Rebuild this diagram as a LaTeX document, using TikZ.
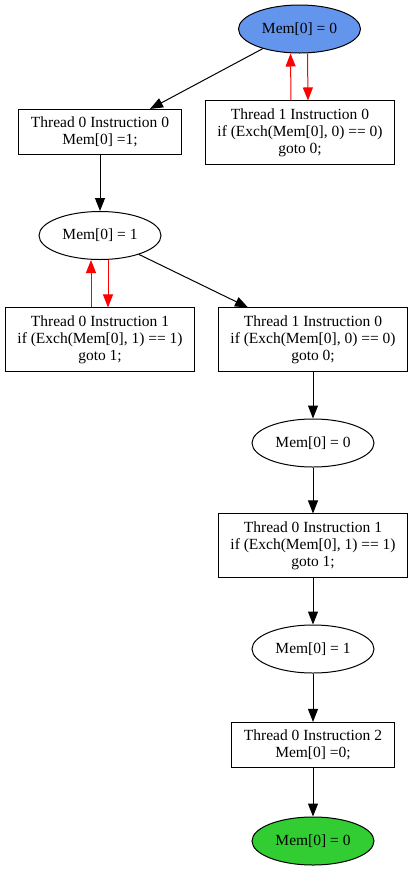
\documentclass[tikz,border=0pt]{standalone}
\usepackage{fontspec}
\setmainfont{Liberation Serif}
\usetikzlibrary{shapes.geometric,arrows.meta}
\definecolor{startblue}{HTML}{6495ED}
\definecolor{donegreen}{HTML}{32CD32}

\begin{document}
\begin{tikzpicture}[x=1pt,y=-1pt,line width=1pt,
    every node/.style={font=\fontsize{15.5}{17}\selectfont},
    state/.style={draw,ellipse,minimum width=122pt,minimum height=48pt,inner sep=0pt},
    instr/.style={draw,rectangle,align=center,inner xsep=12pt,inner ysep=7.5pt},
    edge/.style={-{Triangle[length=13pt,width=10pt]}},
    redge/.style={edge,red}]
    \useasboundingbox (0,0) rectangle (413,871);
     \node[state,fill=startblue] (m0) at (299.5,29) {Mem[0] = 0};
     \node[instr] (t0i0) at (100,132) {Thread 0 Instruction 0\\Mem[0] =1;};
     \node[instr] (t1i0a) at (300,132.5) {Thread 1 Instruction 0\\if (Exch(Mem[0], 0) == 0)\\goto 0;};
     \node[state] (m1) at (100,235.5) {Mem[0] = 1};
     \node[instr] (t0i1a) at (100,339.5) {Thread 0 Instruction 1\\if (Exch(Mem[0], 1) == 1)\\goto 1;};
     \node[instr] (t1i0b) at (313,339.5) {Thread 1 Instruction 0\\if (Exch(Mem[0], 0) == 0)\\goto 0;};
     \node[state] (m2) at (313,443) {Mem[0] = 0};
     \node[instr] (t0i1b) at (313,545.5) {Thread 0 Instruction 1\\if (Exch(Mem[0], 1) == 1)\\goto 1;};
     \node[state] (m3) at (313,649) {Mem[0] = 1};
     \node[instr] (t0i2) at (313,745) {Thread 0 Instruction 2\\Mem[0] =0;};
     \node[state,fill=donegreen] (m4) at (313,841) {Mem[0] = 0};
     \draw[edge] (m0) -- (t0i0.north -| 150,0);
     \draw[redge] ([xshift=-9pt]t1i0a.north) -- ([xshift=-9pt]m0.south);
     \draw[redge] ([xshift=8pt]m0.south) -- ([xshift=8pt]t1i0a.north);
     \draw[edge] (t0i0) -- (m1);
     \draw[redge] ([xshift=-9pt]t0i1a.north) -- ([xshift=-9pt]m1.south);
     \draw[redge] ([xshift=8pt]m1.south) -- ([xshift=8pt]t0i1a.north);
     \draw[edge] (m1) -- (t1i0b.north -| 248,0);
     \draw[edge] (t1i0b) -- (m2);
     \draw[edge] (m2) -- (t0i1b);
     \draw[edge] (t0i1b) -- (m3);
     \draw[edge] (m3) -- (t0i2);
     \draw[edge] (t0i2) -- (m4);
\end{tikzpicture}
\end{document}
